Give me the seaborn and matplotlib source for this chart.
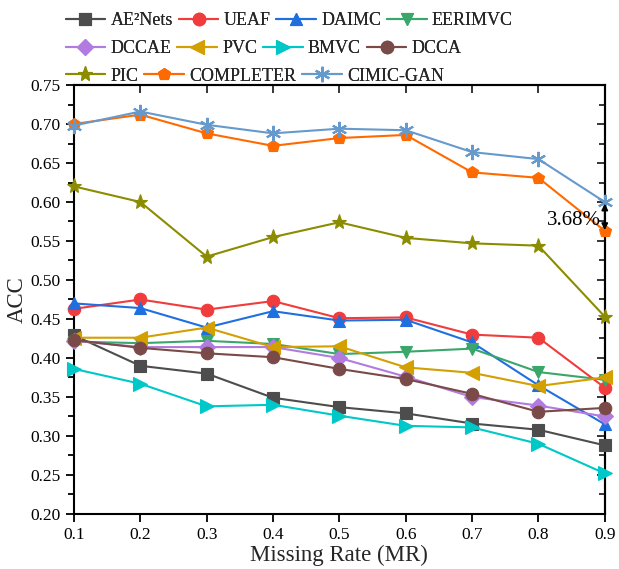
import matplotlib
matplotlib.use("Agg")
import matplotlib.pyplot as plt
import seaborn as sns
import numpy as np
import pandas as pd
from matplotlib.ticker import MultipleLocator

missing_rate = [0.1, 0.2, 0.3, 0.4, 0.5, 0.6, 0.7, 0.8, 0.9]

methods = ["AE²Nets", "UEAF", "DAIMC", "EERIMVC", "DCCAE", "PVC", "BMVC", "DCCA",
           "PIC", "COMPLETER", "CIMIC-GAN"]

ae2nets   = [0.429, 0.390, 0.380, 0.349, 0.337, 0.329, 0.316, 0.308, 0.288]
ueaf      = [0.463, 0.475, 0.462, 0.473, 0.451, 0.452, 0.430, 0.426, 0.362]
daimc     = [0.470, 0.464, 0.439, 0.460, 0.448, 0.449, 0.420, 0.365, 0.315]
eerimvc   = [0.421, 0.419, 0.422, 0.418, 0.405, 0.408, 0.412, 0.382, 0.372]
dccae     = [0.422, 0.414, 0.414, 0.414, 0.400, 0.376, 0.350, 0.339, 0.325]
pvc       = [0.426, 0.426, 0.439, 0.414, 0.415, 0.388, 0.381, 0.364, 0.375]
bmvc      = [0.386, 0.367, 0.338, 0.340, 0.326, 0.313, 0.311, 0.290, 0.252]
dcca      = [0.423, 0.413, 0.406, 0.401, 0.386, 0.373, 0.354, 0.331, 0.336]
pic       = [0.620, 0.600, 0.530, 0.555, 0.574, 0.554, 0.547, 0.544, 0.453]
completer = [0.700, 0.712, 0.688, 0.672, 0.682, 0.686, 0.638, 0.631, 0.563]
cimic_gan = [0.698, 0.716, 0.699, 0.688, 0.694, 0.692, 0.664, 0.655, 0.600]

series = [ae2nets, ueaf, daimc, eerimvc, dccae, pvc, bmvc, dcca, pic, completer, cimic_gan]

colors = ["#4d4d4d", "#f03c3c", "#1f6fe0", "#3aa66a", "#b27be0", "#d49f00",
          "#00c8c8", "#7a4a48", "#8c8c00", "#ff6a00", "#6699cc"]
markers = ["s", "o", "^", "v", "D", "<", ">", "o", "*", "p", (6, 2, 0)]
msizes = [8, 9, 9, 9, 8, 10, 10, 9, 11, 9, 11]

sns.set_theme(style="ticks")
plt.rcParams["font.family"] = ["Liberation Serif", "DejaVu Serif"]
plt.rcParams["mathtext.fontset"] = "custom"
plt.rcParams["mathtext.rm"] = "Liberation Serif"

fig = plt.figure(figsize=(6.19, 5.69), dpi=100)
ax = fig.add_axes([0.1195, 0.0967, 0.8575, 0.7539])

handles = []
for name, vals, c, m, ms in zip(methods, series, colors, markers, msizes):
    df = pd.DataFrame({"MR": missing_rate, "ACC": vals})
    sns.lineplot(data=df, x="MR", y="ACC", ax=ax, color=c, marker=m,
                 markersize=ms, markeredgecolor=c, markeredgewidth=1.5 if m == (6, 2, 0) else 0.8,
                 linewidth=1.5, label=name, legend=False, clip_on=False, zorder=3)
    handles.append(ax.lines[-1])

ax.set_xlim(0.1, 0.9)
ax.set_ylim(0.20, 0.75)
ax.xaxis.set_major_locator(MultipleLocator(0.1))
ax.yaxis.set_major_locator(MultipleLocator(0.05))
ax.yaxis.set_minor_locator(MultipleLocator(0.025))
ax.set_xticklabels([f"{v:.1f}" for v in ax.get_xticks()])
ax.set_yticklabels([f"{v:.2f}" for v in ax.get_yticks()])
ax.tick_params(axis="both", which="both", direction="out", labelsize=12.5,
               colors="black", width=1.3)
ax.tick_params(axis="both", which="major", length=6)
ax.tick_params(axis="y", which="minor", length=4)
ax.set_xlim(0.1, 0.9)
ax.set_ylim(0.20, 0.75)
for s in ax.spines.values():
    s.set_linewidth(1.5)
    s.set_color("black")

# mirrored inward ticks on top and right
axt = ax.secondary_xaxis("top")
axt.xaxis.set_major_locator(MultipleLocator(0.1))
axt.tick_params(direction="in", length=6, width=1.3, labeltop=False)
axr = ax.secondary_yaxis("right")
axr.yaxis.set_major_locator(MultipleLocator(0.05))
axr.yaxis.set_minor_locator(MultipleLocator(0.025))
axr.tick_params(which="major", direction="in", length=6, width=1.3, labelright=False)
axr.tick_params(which="minor", direction="in", length=4, width=1.3, labelright=False)
axt.spines["top"].set_linewidth(1.5)
axr.spines["right"].set_linewidth(1.5)

ax.set_xlabel("Missing Rate (MR)", fontsize=16.5, labelpad=1)
ax.set_ylabel("ACC", fontsize=16.5, labelpad=2)

# annotation of gap
ax.annotate("", xy=(0.9, completer[-1] + 0.001), xytext=(0.9, cimic_gan[-1] - 0.002),
            arrowprops=dict(arrowstyle="<|-|>", color="black", lw=1.3,
                            mutation_scale=9, shrinkA=0, shrinkB=0), zorder=5)
ax.text(0.894, 0.576, "3.68%", fontsize=15, ha="right", va="center", color="black")

# legend rows (flowing like the reference)
rows = [[0, 1, 2, 3], [4, 5, 6, 7], [8, 9, 10]]
ys = [0.982, 0.933, 0.884]
for r, y in zip(rows, ys):
    leg = fig.legend([handles[i] for i in r], [methods[i] for i in r],
                     loc="upper left", bbox_to_anchor=(0.103, y), ncol=len(r),
                     frameon=False, fontsize=13, handlelength=2.2,
                     handletextpad=0.28, columnspacing=0.33, borderpad=0.1,
                     borderaxespad=0.0)
    fig.add_artist(leg)

fig.savefig("out.png", dpi=100)
